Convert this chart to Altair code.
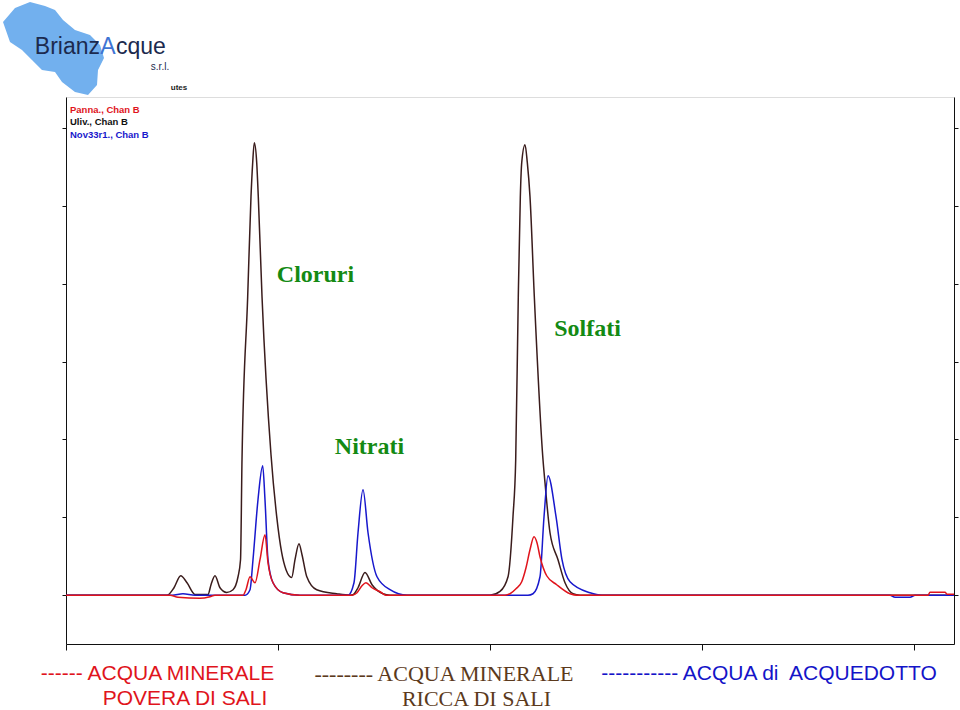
import altair as alt
import pandas as pd

# ---- data (time in minutes, signal in axis units) ----
uliv_t = [0, 2.382, 2.547, 2.705, 2.854, 3.042, 3.349, 3.420, 3.514, 3.632, 3.790, 3.939,
          4.057, 4.116, 4.151, 4.285, 4.363, 4.403, 4.441, 4.498, 4.535, 4.623, 4.835, 4.969,
          5.087, 5.189, 5.323, 5.401, 5.495, 5.566, 5.677, 5.913, 6.384, 6.698, 6.769, 6.887,
          7.052, 7.217, 7.476, 7.642, 10.0, 10.236, 10.425, 10.542, 10.606, 10.667, 10.715,
          10.748, 10.825, 10.880, 10.943, 11.045, 11.250, 11.297, 11.415, 11.604, 11.769,
          11.958, 12.123, 20.943]
uliv_v = [0, 0, 0.096, 0.250, 0.160, 0.01, 0.01, 0.135, 0.250, 0.096, 0.036, 0.071,
          0.237, 0.456, 1.739, 3.832, 5.116, 5.552, 5.809, 5.552, 5.116, 3.832, 1.804, 1.012,
          0.546, 0.327, 0.228, 0.456, 0.661, 0.520, 0.241, 0.071, 0.019, 0, 0.006, 0.096,
          0.293, 0.135, 0.019, 0, 0, 0.049, 0.237, 1.008, 1.739, 3.832, 5.116,
          5.552, 5.783, 5.552, 5.116, 3.832, 1.739, 1.444, 0.802, 0.456, 0.160,
          0.019, 0, 0]

nov_t = [0, 2.5, 2.759, 3.042, 4.222, 4.340, 4.410, 4.528, 4.639, 4.693, 4.764, 4.882,
         5.118, 5.519, 6.651, 6.792, 6.887, 7.005, 7.123, 7.335, 7.642, 8.042, 10.896,
         11.014, 11.179, 11.274, 11.368, 11.557, 11.698, 11.887, 12.358, 12.634, 19.434,
         19.552, 19.906, 20.024, 20.943]
nov_v = [0, 0, 0.019, 0, 0, 0.071, 0.456, 1.226, 1.662, 1.226, 0.456, 0.160,
         0.032, 0, 0, 0.160, 0.802, 1.354, 0.802, 0.237, 0.071, 0, 0,
         0.019, 0.237, 1.008, 1.534, 1.008, 0.456, 0.173, 0.032, 0, 0,
         -0.026, -0.026, 0, 0]

panna_t = [0, 2.453, 2.642, 3.160, 3.396, 3.514, 4.175, 4.245, 4.340, 4.458, 4.575, 4.693,
           4.764, 4.882, 5.118, 5.519, 6.745, 6.863, 6.981, 7.075, 7.217, 7.406, 7.547,
           10.354, 10.472, 10.613, 10.748, 10.849, 10.943, 11.038, 11.108, 11.179, 11.337,
           11.573, 11.887, 12.075, 20.330, 20.377, 20.731, 20.778, 20.943]
panna_v = [0, 0, -0.026, -0.039, -0.019, 0, 0, 0.071, 0.237, 0.160, 0.456, 0.777,
           0.417, 0.160, 0.032, 0, 0, 0.032, 0.122, 0.160, 0.096, 0.045, 0,
           0, 0.019, 0.083, 0.173, 0.353, 0.584, 0.751, 0.674, 0.494, 0.250,
           0.135, 0.019, 0, 0, 0.039, 0.039, 0.013, 0.013]

x_ticks = [0, 5, 10, 15, 20]
y_ticks = [0, 1, 2, 3, 4, 5, 6]

RED = "#e0141c"
DARK = "#3a1c1c"
BLUE = "#1818cc"

W, H = 888, 547
XD = [0, 20.943]
YD = [-0.626, 6.395]


def frame(t, v):
    return pd.DataFrame({"t": t, "v": v, "i": range(len(t))})


def xenc():
    return alt.X("t:Q", scale=alt.Scale(domain=XD, nice=False, zero=False),
                 axis=alt.Axis(values=x_ticks, labels=False, title=None, grid=False,
                               tickSize=6, tickColor="#111", domainColor="#111"))


def series(df, color, yaxis):
    return alt.Chart(df).mark_line(color=color, strokeWidth=1.5, clip=True,
                                   interpolate="monotone").encode(
        x=xenc(),
        y=alt.Y("v:Q", scale=alt.Scale(domain=YD, nice=False, zero=False), axis=yaxis),
        order="i:Q",
    )


left_axis = alt.Axis(values=y_ticks, labels=False, title=None, grid=False, tickSize=4,
                     tickColor="#111", domainColor="#111", orient="left")
right_axis = alt.Axis(values=y_ticks, labels=False, title=None, grid=False, tickSize=4,
                      tickColor="#111", domainColor="#111", orient="right")

black = series(frame(uliv_t, uliv_v), DARK, left_axis)
blue = series(frame(nov_t, nov_v), BLUE, None)
red = series(frame(panna_t, panna_v), RED, right_axis)

one = alt.Data(values=[{"a": 1}])


def txt(s, x, y, color, size, font="Liberation Sans", weight="normal", align="center"):
    return alt.Chart(one).mark_text(text=s, align=align, baseline="middle", font=font,
                                    fontSize=size, fontWeight=weight, color=color).encode(
        x=alt.value(x), y=alt.value(y))


# logo blob
blob_path = ("M -1.04 -0.56 L -0.8 -0.84 L -0.5 -0.96 L -0.2 -0.88 L 0 -0.8 L 0.16 -0.6 "
             "L 0.4 -0.4 L 0.7 -0.3 L 0.9 -0.1 L 0.98 0.16 L 0.86 0.4 L 0.84 0.7 "
             "L 0.66 0.9 L 0.4 0.84 L 0.14 0.64 L 0 0.44 L -0.26 0.4 L -0.46 0.2 "
             "L -0.66 0 L -0.9 -0.16 Z")
blob = alt.Chart(one).mark_point(shape=blob_path, filled=True, color="#72b0ee", opacity=1,
                                 size=10000, strokeWidth=0).encode(
    x=alt.value(-11), y=alt.value(-47))

logo = [
    blob,
    txt("Brianz", 34, -50, "#1c2a4e", 23, align="right"),
    txt("A", 42, -50, "#3f74d4", 23),
    txt("cque", 50, -50, "#1c2a4e", 23, align="left"),
    txt("s.r.l.", 94, -30, "#1c2a4e", 10),
]

inside = [
    txt("utes", 113, -9, "#222", 8, weight="bold"),
    txt("Panna., Chan B", 4, 13, RED, 9.5, weight="bold", align="left"),
    txt("Uliv., Chan B", 4, 25, "#111", 9.5, weight="bold", align="left"),
    txt("Nov33r1., Chan B", 4, 38, BLUE, 9.5, weight="bold", align="left"),
]

GREEN = "#138a13"
serif = "Liberation Serif"
notes = [
    txt("Cloruri", 249.5, 178, GREEN, 24, font=serif, weight="bold"),
    txt("Solfati", 521.5, 232, GREEN, 24, font=serif, weight="bold"),
    txt("Nitrati", 303.5, 350, GREEN, 24, font=serif, weight="bold"),
]

BROWN = "#5c3a1c"
bottom = [
    txt("------ ACQUA MINERALE", 91.5, 577, RED, 21),
    txt("POVERA DI SALI", 119, 602, RED, 21),
    txt("-------- ACQUA MINERALE", 378, 577, BROWN, 22, font=serif),
    txt("RICCA DI SALI", 410.5, 602, BROWN, 22, font=serif),
    txt("----------- ACQUA di\u00a0 ACQUEDOTTO", 703, 577, "#1414c8", 21),
]

chart = alt.layer(black, blue, red, *logo, *inside, *notes, *bottom).resolve_axis(
    y="independent"
).properties(
    width=W, height=H,
    autosize=alt.AutoSizeParams(type="none"),
    padding={"left": 66, "top": 97, "right": 6, "bottom": 66},
).configure_view(stroke="#111", strokeWidth=1).configure(background="white")

chart.save("out.html", embed_options={"renderer": "svg", "actions": False})
